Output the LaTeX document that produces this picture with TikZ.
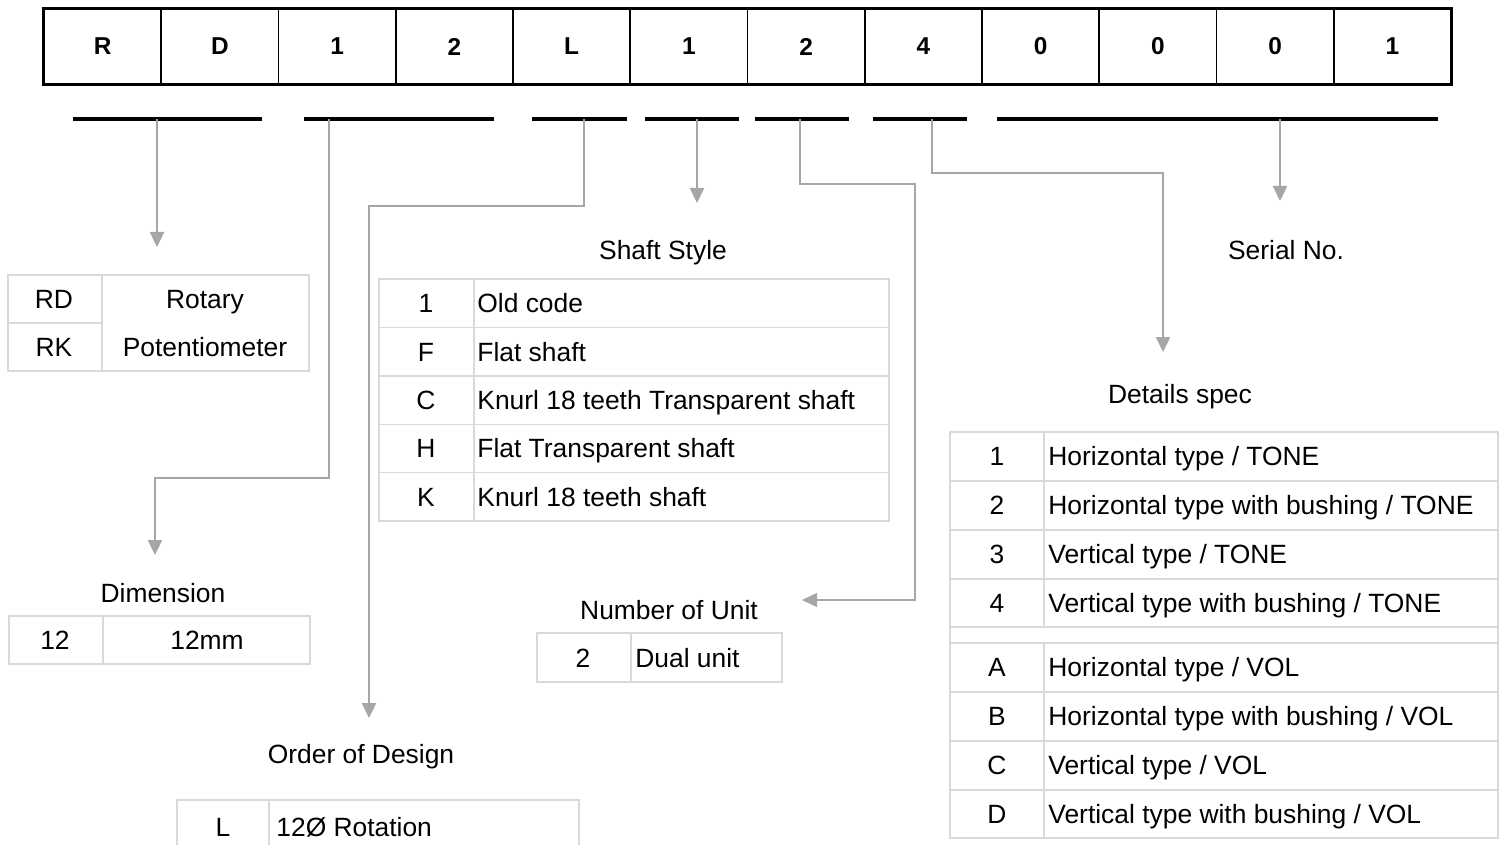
\documentclass[tikz,border=0pt]{standalone}
\usepackage{fontspec}
\setmainfont{Liberation Sans}
\usetikzlibrary{arrows.meta}

\definecolor{linkgray}{HTML}{A6A6A6}
\definecolor{gridgray}{HTML}{D9D9D9}

\tikzset{
  codebox/.style={draw=black, line width=0.8pt, minimum width=58.625pt, minimum height=37.5pt, inner sep=0pt, font=\fontsize{12.2}{14}\selectfont\bfseries},
  codebar/.style={black, line width=2.2pt},
  link/.style={draw=linkgray, line width=1.2pt, -{Triangle[width=7pt,length=7.5pt]}},
  grid/.style={draw=gridgray, line width=0.7pt},
  title/.style={inner sep=0pt, text height=9.4pt, text depth=0pt, font=\fontsize{13.2}{15}\selectfont},
  cellc/.style={title},
  celll/.style={title, anchor=west},
}

\begin{document}
\begin{tikzpicture}[x=0.5pt,y=-0.5pt]
  \useasboundingbox (0,0) rectangle (1504,845);
  \clip (0,0) rectangle (1504,845);
  % Draw the code boxes
  \foreach \ch [count=\i] in {R,D,1,2,L,1,2,4,0,0,0,1}{
    \node[codebox] (c\i) at ({44+117.25*(\i-0.5)},46.5) {\ch};
  }
  \draw[line width=1.2pt] (c1.north west) rectangle (c12.south east);
  % Draw the bars under the code
  \draw[codebar] (73,119) -- (262,119);
  \draw[codebar] (304,119) -- (494,119);
  \draw[codebar] (532,119) -- (627,119);
  \draw[codebar] (645,119) -- (739,119);
  \draw[codebar] (755,119) -- (849,119);
  \draw[codebar] (873,119) -- (967,119);
  \draw[codebar] (997,119) -- (1438,119);
  % Taps and arrow ends
  \coordinate (tapType) at (157,119);
  \coordinate (tapDim) at (329,119);
  \coordinate (tapOrder) at (584,119);
  \coordinate (tapShaft) at (697,119);
  \coordinate (tapUnit) at (800,119);
  \coordinate (tapSpec) at (932,119);
  \coordinate (tapSerial) at (1280,119);
  \coordinate (endType) at (157,247);
  \coordinate (endDim) at (155,555);
  \coordinate (endOrder) at (369,718);
  \coordinate (endShaft) at (697,203);
  \coordinate (endUnit) at (802,600);
  \coordinate (endSpec) at (1163,352);
  \coordinate (endSerial) at (1280,201);
  % Draw the connectors
  \draw[link] (tapType) -- (endType);
  \draw[link] (tapDim) -- ++(0,359) -| (endDim);
  \draw[link] (tapOrder) -- ++(0,87) -| (endOrder);
  \draw[link] (tapShaft) -- (endShaft);
  \draw[link, line width=0.6pt] (tapUnit) -- ++(0,65) -- ++(115,0) -- ++(0,416) -- (endUnit);
  \draw[link] (tapSpec) -- ++(0,54) -| (endSpec);
  \draw[link] (tapSerial) -- (endSerial);

  % Type table
  \draw[grid] (8,275) rectangle (309,371);
  \draw[grid] (102,275) -- (102,371);
  \draw[grid] (8,323) -- (102,323);
  \node[cellc] (rd) at (54,299) {RD};
  \node[cellc] (rk) at (54,347) {RK};
  \node[cellc] (rotary) at (205,299) {Rotary};
  \node[cellc] (pot) at (205,347) {Potentiometer};

  % Dimension table
  \node[title] (dimtitle) at (163,593) {Dimension};
  \draw[grid] (9,616) rectangle (310,664);
  \draw[grid] (103,616) -- (103,664);
  \node[cellc] (dimk) at (55,640) {12};
  \node[cellc] (dimv) at (207,640) {12mm};

  % Shaft style table
  \node[title] (shafttitle) at (663,250) {Shaft Style};
  \draw[grid] (379,279) rectangle (889,521);
  \draw[grid] (474,279) -- (474,521);
  \foreach \k in {1,...,4}{
    \draw[grid] (379,279+48.4*\k) -- (889,279+48.4*\k);
  }
  \foreach \a/\b [count=\i] in {1/Old code,F/Flat shaft,C/Knurl 18 teeth Transparent shaft,H/Flat Transparent shaft,K/Knurl 18 teeth shaft}{
    \node[cellc] (shaftk\i) at (426,{279+48.4*(\i-0.5)}) {\a};
    \node[celll] (shaftv\i) at (477,{279+48.4*(\i-0.5)}) {\b};
  }

  % Number of unit table
  \node[title] (unittitle) at (669,610) {Number of Unit};
  \draw[grid] (537,633) rectangle (782,682);
  \draw[grid] (631,633) -- (631,682);
  \node[cellc] (unitk) at (583,658) {2};
  \node[celll] (unitv) at (635,658) {Dual unit};

  % Order of design table
  \node[title] (ordertitle) at (361,754) {Order of Design};
  \draw[grid] (177,800) rectangle (579,854);
  \draw[grid] (269,800) -- (269,854);
  \node[cellc] (orderk) at (223,827) {L};
  \node[celll] (orderv) at (276,827) {12Ø Rotation};

  % Details spec table
  \node[title] (spectitle) at (1180,394) {Details spec};
  \draw[grid] (950,432) rectangle (1498,838);
  \draw[grid] (1044,432) -- (1044,627);
  \draw[grid] (1044,643) -- (1044,838);
  \foreach \y in {481,530,579,627,643,692,741,790}{
    \draw[grid] (950,\y) -- (1498,\y);
  }
  \foreach \a/\b [count=\i] in {1/{Horizontal type / TONE},2/{Horizontal type with bushing / TONE},3/{Vertical type / TONE},4/{Vertical type with bushing / TONE}}{
    \node[cellc] (tonek\i) at (997,{432+48.75*(\i-0.5)}) {\a};
    \node[celll] (tonev\i) at (1048,{432+48.75*(\i-0.5)}) {\b};
  }
  \foreach \a/\b [count=\i] in {A/{Horizontal type / VOL},B/{Horizontal type with bushing / VOL},C/{Vertical type / VOL},D/{Vertical type with bushing / VOL}}{
    \node[cellc] (volk\i) at (997,{643+48.75*(\i-0.5)}) {\a};
    \node[celll] (volv\i) at (1048,{643+48.75*(\i-0.5)}) {\b};
  }

  % Serial number
  \node[title] (serialtitle) at (1286,250) {Serial No.};
\end{tikzpicture}
\end{document}
